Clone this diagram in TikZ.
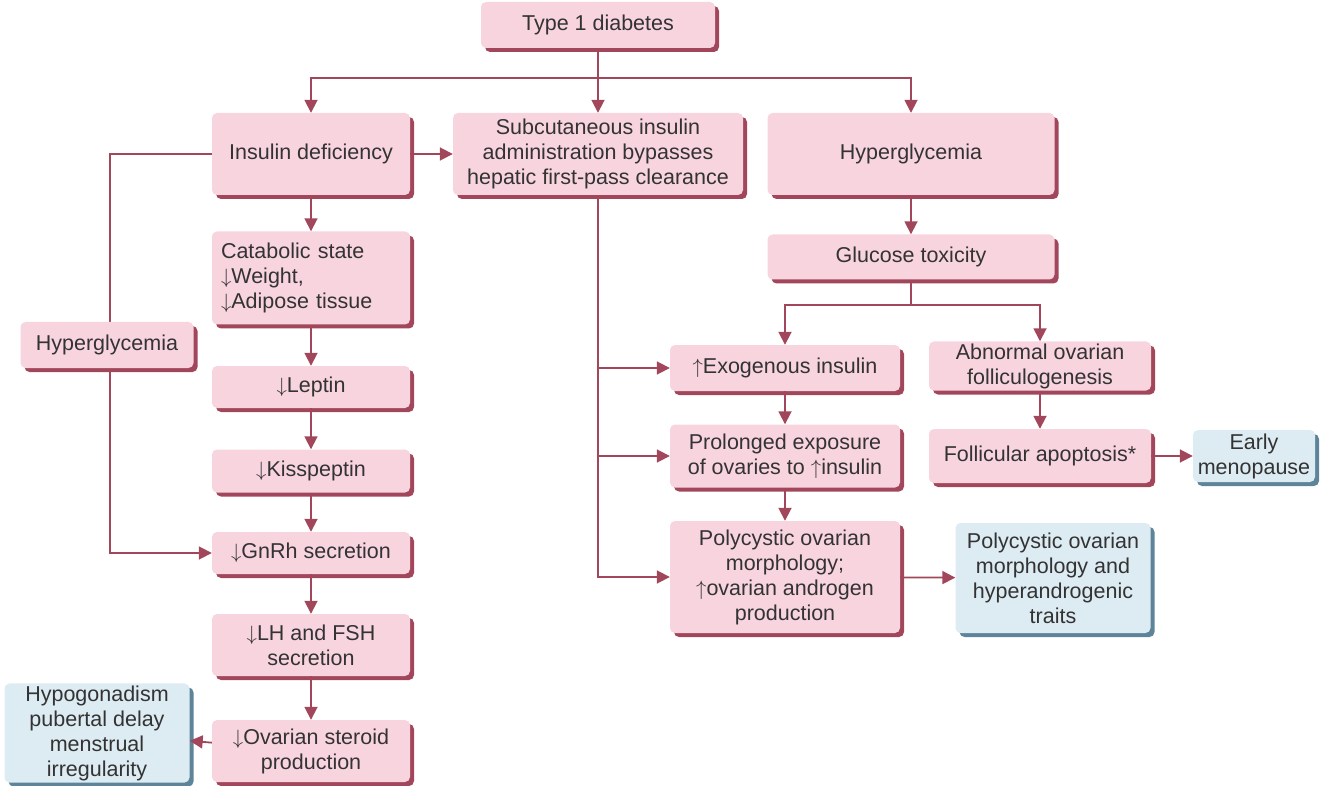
\documentclass[tikz,border=0pt]{standalone}
\usepackage{fontspec}
\setmainfont{Liberation Sans}
\usetikzlibrary{arrows.meta,shadows}
\definecolor{boxpink}{HTML}{F8D4DF}
\definecolor{edgered}{HTML}{A2475B}
\definecolor{boxblue}{HTML}{DDEBF2}
\definecolor{edgeblue}{HTML}{5E8499}
\definecolor{txtgray}{HTML}{333333}

\begin{document}
\begin{tikzpicture}[x=1pt,y=-1pt,
  basebox/.style={rounded corners=5pt, inner sep=2pt, align=center, text=txtgray,
    font=\fontsize{21.5}{25}\selectfont},
  pinkbox/.style={basebox, fill=boxpink,
    drop shadow={shadow xshift=4pt, shadow yshift=-4pt, fill=edgered, opacity=1}},
  bluebox/.style={basebox, fill=boxblue,
    drop shadow={shadow xshift=4pt, shadow yshift=-4pt, fill=edgeblue, opacity=1}},
  line/.style={draw=edgered, line width=1.8pt},
  conn/.style={line, -{Triangle[length=13pt,width=13pt]}}]

\useasboundingbox (0,0) rectangle (1320,786);

% top and first row
\node[pinkbox, minimum width=234pt, minimum height=46pt] (t1d) at (598,25) {Type 1 diabetes};
\node[pinkbox, minimum width=198pt, minimum height=82pt] (insdef) at (311,154) {Insulin deficiency};
\node[pinkbox, minimum width=290pt, minimum height=82pt] (subq) at (598,154)
  {Subcutaneous insulin\\administration bypasses\\hepatic first-pass clearance};
\node[pinkbox, minimum width=287pt, minimum height=82pt] (hyperR) at (911,154) {Hyperglycemia};

% left column
\node[pinkbox, text width=180pt, inner sep=9pt, align=left, minimum height=93pt] (catab) at (311,278)
  {Catabolic state\\$\downarrow$Weight,\\$\downarrow$Adipose tissue};
\node[pinkbox, minimum width=198pt, minimum height=42pt] (leptin) at (311,387) {$\downarrow$Leptin};
\node[pinkbox, minimum width=198pt, minimum height=43pt] (kiss) at (311,471) {$\downarrow$Kisspeptin};
\node[pinkbox, minimum width=198pt, minimum height=42pt] (gnrh) at (311,553) {$\downarrow$GnRh secretion};
\node[pinkbox, minimum width=198pt, minimum height=62pt] (lhfsh) at (311,645) {$\downarrow$LH and FSH\\secretion};
\node[pinkbox, minimum width=198pt, minimum height=62pt] (ovst) at (311,751) {$\downarrow$Ovarian steroid\\production};
\node[bluebox, minimum width=185pt, minimum height=97pt] (hypogon) at (97,733)
  {Hypogonadism\\pubertal delay\\menstrual\\irregularity};

% right side
\node[pinkbox, minimum width=287pt, minimum height=45pt] (gluc) at (911,257) {Glucose toxicity};
\node[pinkbox, minimum width=230pt, minimum height=46pt] (exo) at (785,368) {$\uparrow$Exogenous insulin};
\node[pinkbox, minimum width=222pt, minimum height=47pt] (abn) at (1040,366) {Abnormal ovarian\\folliculogenesis};
\node[pinkbox, minimum width=230pt, minimum height=63pt] (prolong) at (785,456)
  {Prolonged exposure\\of ovaries to $\uparrow$insulin};
\node[pinkbox, minimum width=222pt, minimum height=54pt] (follic) at (1040,456) {Follicular apoptosis*};
\node[bluebox, minimum width=122pt, minimum height=52pt] (early) at (1254,456) {Early\\menopause};
\node[pinkbox, minimum width=230pt, minimum height=112pt] (pcom) at (785,577)
  {Polycystic ovarian\\morphology;\\$\uparrow$ovarian androgen\\production};
\node[bluebox, minimum width=195pt, minimum height=110pt] (pcob) at (1053,578)
  {Polycystic ovarian\\morphology and\\hyperandrogenic\\traits};

% branching from the top
\coordinate (topbar) at (598,78);
\draw[line] (t1d) -- (topbar);
\draw[conn] (topbar) -| (insdef);
\draw[conn] (topbar) -- (subq);
\draw[conn] (topbar) -| (hyperR);
\draw[conn] (insdef) -- (subq);

% left chain
\draw[conn] (insdef) -- (catab);
\draw[conn] (catab) -- (leptin);
\draw[conn] (leptin) -- (kiss);
\draw[conn] (kiss) -- (gnrh);
\draw[conn] (gnrh) -- (lhfsh);
\draw[conn] (lhfsh) -- (ovst);
\draw[conn] (ovst) -- (hypogon);

% hyperglycemia loop to GnRh
\coordinate (lloop) at (110,154);
\draw[conn] (insdef) -- (lloop) |- (gnrh);
\node[pinkbox, minimum width=173pt, minimum height=46pt] (hyperL) at (107,345) {Hyperglycemia};

% insulin trunk
\draw[conn] (subq.south) |- (exo);
\draw[conn] (subq.south) |- (prolong);
\draw[conn] (subq.south) |- (pcom);
\draw[conn] (exo) -- (prolong);
\draw[conn] (prolong) -- (pcom);
\draw[conn] (pcom) -- (pcob);

% glucose toxicity branch
\coordinate (gsplit) at (911,305);
\draw[conn] (hyperR) -- (gluc);
\draw[line] (gluc) -- (gsplit);
\draw[conn] (gsplit) -| (exo);
\draw[conn] (gsplit) -| (abn);
\draw[conn] (abn) -- (follic);
\draw[conn] (follic) -- (early);

\end{tikzpicture}
\end{document}
